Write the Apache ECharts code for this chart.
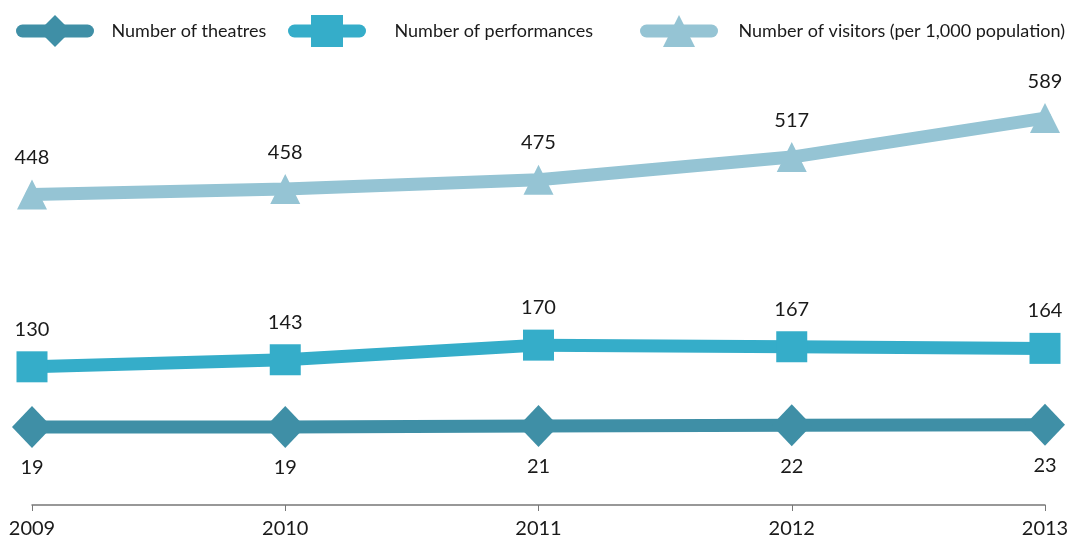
<!DOCTYPE html>
<html>
<head>
<meta charset="utf-8">
<script src="https://cdn.jsdelivr.net/npm/echarts@6/dist/echarts.min.js"></script>
<style>
  html, body { margin: 0; padding: 0; background: #fff; }
  #chart { width: 1073px; height: 542px; }
</style>
</head>
<body>
<div id="chart"></div>
<script>
const years = ['2009', '2010', '2011', '2012', '2013']
const theatres = [19, 19, 21, 22, 23]
const performances = [130, 143, 170, 167, 164]
const visitors = [448, 458, 475, 517, 589]
const seriesNames = ['Number of theatres', 'Number of performances', 'Number of visitors (per 1,000 population)']

const FONT = "Lato, sans-serif"

const makeSeries = (name, data, color, symbol, size, labelPos) => ({
  name,
  type: 'line',
  data,
  symbol,
  symbolSize: size,
  lineStyle: { width: 13, color, cap: 'round' },
  itemStyle: { color },
  label: {
    show: true,
    position: labelPos,
    distance: labelPos === 'top' ? 12 : 10,
    color: '#1a1a1a',
    fontSize: 20,
    fontFamily: FONT
  },
  emphasis: { disabled: true },
  animation: false
})

// one legend per item so each can sit where the reference has it
const makeLegend = (name, left, textPad) => ({
  data: [name],
  top: 15,
  left,
  padding: 0,
  itemWidth: 65,
  itemHeight: 40,
  lineStyle: { width: 13, cap: 'round' },
  selectedMode: false,
  textStyle: { color: '#1a1a1a', fontSize: 18, fontFamily: FONT, padding: [0, 0, 0, textPad] }
})

const chart = echarts.init(document.getElementById('chart'))
chart.setOption({
  backgroundColor: '#fff',
  legend: [
    makeLegend(seriesNames[0], 16, 19),
    makeLegend(seriesNames[1], 288, 30),
    makeLegend(seriesNames[2], 640, 22)
  ],
  grid: { left: 32, right: 28, top: 85, bottom: 37 },
  xAxis: {
    type: 'category',
    boundaryGap: false,
    data: years,
    axisLine: { onZero: false, lineStyle: { color: '#777', width: 1.5 } },
    axisTick: { show: true, length: 6, lineStyle: { color: '#777' } },
    axisLabel: { color: '#1a1a1a', fontSize: 20, fontFamily: FONT, margin: 14 }
  },
  yAxis: {
    type: 'value',
    min: -125,
    max: 650,
    show: false
  },
  series: [
    makeSeries(seriesNames[0], theatres, '#3f8fa6', 'diamond', [40, 42], 'bottom'),
    makeSeries(seriesNames[1], performances, '#35adc9', 'rect', 31, 'top'),
    makeSeries(seriesNames[2], visitors, '#95c4d4', 'triangle', 30, 'top')
  ]
})
</script>
</body>
</html>
